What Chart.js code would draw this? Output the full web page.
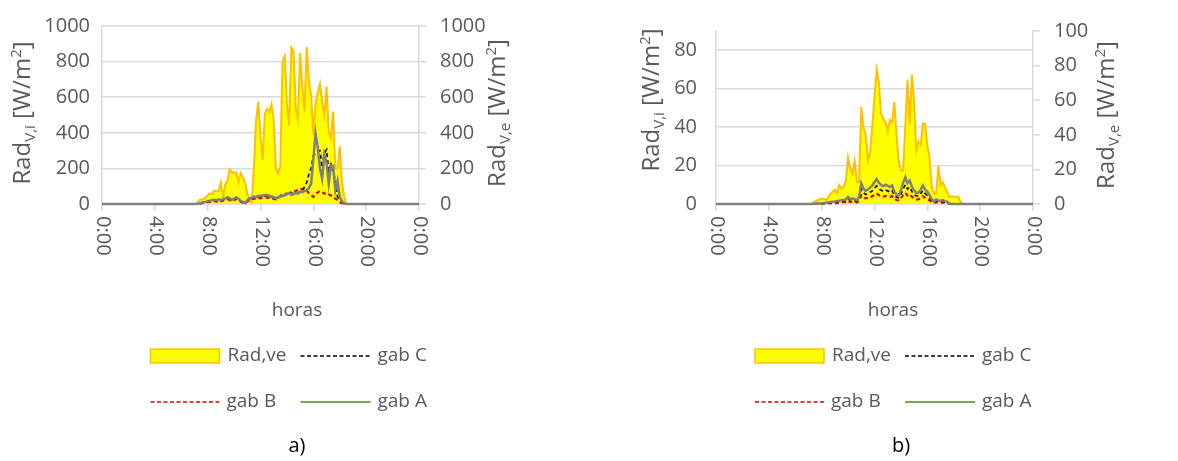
<!DOCTYPE html>
<html>
<head>
<meta charset="utf-8">
<script src="https://cdn.jsdelivr.net/npm/chart.js@4.4.1/dist/chart.umd.min.js"></script>
<style>
  body { margin: 0; background: #fff; }
  .box { position: absolute; top: 0; width: 589px; height: 461px; }
</style>
</head>
<body>
<div class="box" style="left:0"><canvas id="chartA" width="589" height="461"></canvas></div>
<div class="box" style="left:589px"><canvas id="chartB" width="589" height="461"></canvas></div>
<script>
// horas del día (cada 10 min entre 7:00 y 19:00)
const horas = ['0:00',
  '7:00','7:10','7:20','7:30','7:40','7:50','8:00','8:10','8:20','8:30','8:40','8:50',
  '9:00','9:10','9:20','9:30','9:40','9:50','10:00','10:10','10:20','10:30','10:40','10:50',
  '11:00','11:10','11:20','11:30','11:40','11:50','12:00','12:10','12:20','12:30','12:40','12:50',
  '13:00','13:10','13:20','13:30','13:40','13:50','14:00','14:10','14:20','14:30','14:40','14:50',
  '15:00','15:10','15:20','15:30','15:40','15:50','16:00','16:10','16:20','16:30','16:40','16:50',
  '17:00','17:10','17:20','17:30','17:40','17:50','18:00','18:10','18:20','18:30','18:40','18:50',
  '19:00',
  '24:00'];
const horaTickVals = [0, 4, 8, 12, 16, 20, 24];
const horaTicks = ['0:00', '4:00', '8:00', '12:00', '16:00', '20:00', '0:00'];

// a)
const radVeA = [0,
  0,0,20,25,25,35,50,60,55,75,
  72,75,120,40,110,130,195,180,175,177,
  120,175,150,120,60,25,7,200,470,575,
  380,250,510,535,515,560,470,200,170,210,
  800,830,560,440,880,860,540,480,850,650,
  520,880,690,610,390,560,625,675,575,495,
  660,405,370,520,200,200,325,120,40,0,
  0,0,0,
  0];
const gabA_A = [0,
  0,0,3,6,10,12,15,18,22,24,
  20,26,22,27,30,38,32,24,30,38,
  30,18,12,5,20,33,36,42,40,46,
  45,48,51,50,46,42,38,33,38,42,
  45,52,56,60,54,56,62,58,69,66,
  72,78,90,115,250,396,320,200,142,278,
  233,115,215,215,78,130,40,15,3,0,
  0,0,0,
  0];
const gabC_A = [0,
  0,0,2,5,8,10,13,16,20,22,
  18,24,20,25,28,34,30,22,28,34,
  27,16,10,4,17,30,33,38,37,42,
  41,44,47,45,42,38,35,30,35,40,
  44,50,54,58,52,55,62,60,72,80,
  95,120,168,200,270,285,296,300,205,287,
  305,186,223,180,130,40,25,13,3,0,
  0,0,0,
  0];
const gabB_A = [0,
  0,0,1,3,6,8,10,12,15,16,
  14,18,15,20,22,27,23,17,22,28,
  21,12,7,3,13,24,26,30,30,33,
  32,35,37,36,34,31,28,26,35,45,
  58,50,62,70,60,77,72,80,86,82,
  86,77,60,50,40,55,65,73,68,58,
  62,55,48,40,30,22,10,4,1,0,
  0,0,0,
  0];

// b)
const radVeB = [0,
  0,0,0.8,1.5,2,2.8,3.2,2.8,2.3,4,
  6,7,8.3,6,11,8.9,9.8,13.6,26.8,20,
  17.4,24.9,12.6,12.6,56,44,40,25,29.6,45,
  62,77.7,70,52,49.4,47.5,41.9,48.5,47.2,58.9,
  40,25,19.2,19.2,45,72,45.7,74.9,58.9,30.6,
  36.2,34.3,46.6,46,34.3,26.8,10,6,6,22,
  10.8,12.6,9.8,7,4.2,4.2,4.2,4.2,4.2,1.5,
  0,0,0,
  0];
const gabA_B = [0,
  0,0,0,0.1,0.2,0.2,0.3,0.5,0.7,0.9,
  1,1.2,1.3,1.5,1.7,1.9,2.1,2.4,3.7,2.4,
  2.9,2.5,2,3.7,10.8,8,6.8,7.5,8.5,9.5,
  11.5,13,11,10,9.2,10,9.5,8.8,9.7,6.3,
  5,4.6,7.1,11,13.9,10.8,12.2,9,7.1,5.8,
  5.8,7.5,9.7,7.5,6.3,4.6,2.5,1.2,2.4,1.8,
  1.7,2,1.5,1.2,0.3,0,0,0,0,0,
  0,0,0,
  0];
const gabC_B = [0,
  0,0,0,0.1,0.1,0.2,0.2,0.4,0.5,0.6,
  0.7,0.9,0.9,1.1,1.2,1.4,1.5,1.7,2.7,1.7,
  2.1,1.8,1.4,2.7,7.8,5.8,4.9,5.4,6.1,6.8,
  8.3,9.4,7.9,7.2,6.6,7.2,6.8,6.3,7,4.5,
  3.6,3.3,5.1,7.9,10,7.8,8.8,6.5,5.1,4.2,
  4.2,5.4,7,5.4,4.5,3.3,1.8,0.9,1.7,1.3,
  1.2,1.4,1.1,0.9,0.2,0,0,0,0,0,
  0,0,0,
  0];
const gabB_B = [0,
  0,0,0,0,0.1,0.1,0.1,0.2,0.3,0.4,
  0.4,0.5,0.5,0.6,0.7,0.8,0.9,1,1.6,1,
  1.2,1.1,0.8,1.6,4.5,3.4,2.9,3.2,3.6,4,
  4.8,5.5,4.6,4.2,3.9,4.2,4,3.7,4.1,2.6,
  2.1,1.9,3,4.6,5.8,4.5,5.1,3.8,3,2.4,
  2.4,3.2,4.1,3.2,2.6,1.9,1,0.5,1,0.8,
  0.7,0.8,0.6,0.5,0.1,0,0,0,0,0,
  0,0,0,
  0];

const GRIS = '#595959';
const REJILLA = '#d9d9d9';
const FUENTE = '"Open Sans"';

function aHoras(s) {
  const p = s.split(':');
  return Number(p[0]) + Number(p[1]) / 60;
}
function serie(vals) {
  return horas.map((h, k) => ({ x: aHoras(h), y: vals[k] }));
}

function tituloEje(ctx, cx, cy, sub) {
  const partes = [['Rad', 0], [sub, 1], [' [W/m', 0], ['2', -1], [']', 0]];
  const fG = '24px ' + FUENTE, fP = '15px ' + FUENTE;
  let total = 0;
  partes.forEach(p => { ctx.font = p[1] ? fP : fG; total += ctx.measureText(p[0]).width; });
  ctx.save();
  ctx.translate(cx, cy);
  ctx.rotate(-Math.PI / 2);
  ctx.textAlign = 'left';
  ctx.textBaseline = 'alphabetic';
  let x = -total / 2;
  partes.forEach(p => {
    ctx.font = p[1] ? fP : fG;
    const dy = p[1] === 1 ? 5 : (p[1] === -1 ? -9 : 0);
    ctx.fillText(p[0], x, 8 + dy);
    x += ctx.measureText(p[0]).width;
  });
  ctx.restore();
}

function linea(ctx, x1, x2, y, color, w, dash) {
  ctx.save();
  ctx.strokeStyle = color;
  ctx.lineWidth = w;
  ctx.setLineDash(dash);
  ctx.beginPath();
  ctx.moveTo(x1, y);
  ctx.lineTo(x2, y);
  ctx.stroke();
  ctx.restore();
}

const extras = {
  id: 'extras',
  afterDraw(chart, args, o) {
    const ctx = chart.ctx;
    const xs = chart.scales.x;
    ctx.save();
    ctx.fillStyle = GRIS;
    // etiquetas del eje x giradas
    ctx.font = '20px ' + FUENTE;
    ctx.textAlign = 'left';
    ctx.textBaseline = 'middle';
    horaTickVals.forEach((v, k) => {
      ctx.save();
      ctx.translate(xs.getPixelForValue(v) + 1, 216);
      ctx.rotate(Math.PI / 2);
      ctx.fillText(horaTicks[k], 0, 0);
      ctx.restore();
    });
    // títulos
    ctx.font = '19px ' + FUENTE;
    ctx.textAlign = 'center';
    ctx.fillText('horas', o.horasX, 311);
    tituloEje(ctx, o.izq[0], o.izq[1], 'V,i');
    tituloEje(ctx, o.der[0], o.der[1], 'V,e');

    // leyenda
    const lx = o.leyendaX;
    ctx.fillStyle = '#ffff00';
    ctx.fillRect(lx, 349, 69, 14);
    ctx.strokeStyle = '#ffc000';
    ctx.lineWidth = 1.5;
    ctx.strokeRect(lx, 349, 69, 14);
    linea(ctx, lx + 150, lx + 220, 356, '#000000', 1.5, [4, 2.5]);
    linea(ctx, lx, lx + 69, 402, '#e00000', 1.5, [4, 2.5]);
    linea(ctx, lx + 150, lx + 220, 402, '#70ad47', 2, []);
    ctx.fillStyle = GRIS;
    ctx.font = '19px ' + FUENTE;
    ctx.textAlign = 'left';
    ctx.fillText('Rad,ve', lx + 77, 356);
    ctx.fillText('gab C', lx + 227, 356);
    ctx.fillText('gab B', lx + 76, 402);
    ctx.fillText('gab A', lx + 227, 402);

    ctx.fillStyle = '#000';
    ctx.font = '20px ' + FUENTE;
    ctx.textAlign = 'center';
    ctx.fillText(o.letra, o.letraX, 446);
    ctx.restore();
  }
};

function crear(id, d, cfg) {
  return new Chart(document.getElementById(id), {
    type: 'line',
    data: {
      datasets: [
        { label: 'gab A', data: serie(d.a), yAxisID: 'y', borderColor: '#808080', borderWidth: 2.5, order: 0, clip: false },
        { label: 'gab C', data: serie(d.c), yAxisID: 'y', borderColor: '#1a1a1a', borderWidth: 1.8, borderDash: [4, 3], order: 1, clip: false },
        { label: 'gab B', data: serie(d.b), yAxisID: 'y', borderColor: '#e00000', borderWidth: 2.2, borderDash: [4, 3], order: 2, clip: false },
        { label: 'Rad,ve', data: serie(d.ve), yAxisID: 'y1', borderColor: '#ffc000', backgroundColor: '#ffff00', borderWidth: 2, fill: 'origin', order: 3 }
      ]
    },
    options: {
      responsive: false,
      animation: false,
      events: [],
      elements: { point: { radius: 0 }, line: { tension: 0 } },
      layout: { padding: { top: cfg.top, left: 0, right: 0, bottom: 0 } },
      plugins: {
        legend: { display: false },
        tooltip: { enabled: false },
        extras: cfg.extras
      },
      scales: {
        x: {
          type: 'linear', min: 0, max: 24,
          ticks: { display: false, stepSize: 4 },
          grid: { display: true, drawOnChartArea: false, drawTicks: true, tickLength: 7, color: REJILLA, lineWidth: 1.5 },
          border: { display: true, color: REJILLA, width: 1.5 },
          afterFit(s) { s.height = 257; }
        },
        y: {
          position: 'left', min: 0, max: cfg.maxI,
          ticks: { stepSize: cfg.paso, includeBounds: false, color: GRIS, padding: cfg.padI, font: { family: 'Open Sans', size: 20 }, callback: v => String(v) },
          grid: { color: REJILLA, lineWidth: 1.5, drawTicks: false },
          border: { display: true, color: REJILLA, width: 1.5 },
          afterFit(s) { s.width = cfg.anchoI; }
        },
        y1: {
          position: 'right', min: 0, max: cfg.maxE,
          ticks: { stepSize: cfg.pasoE, color: GRIS, padding: 14, font: { family: 'Open Sans', size: 20 }, callback: v => String(v) },
          grid: { drawOnChartArea: false, drawTicks: true, tickLength: 7, color: REJILLA, lineWidth: 1.5 },
          border: { display: true, color: REJILLA, width: 1.5 },
          afterFit(s) { s.width = cfg.anchoE; }
        }
      }
    },
    plugins: [extras]
  });
}

crear('chartA', { ve: radVeA, a: gabA_A, b: gabB_A, c: gabC_A }, {
  top: 22, maxI: 1000, paso: 200, maxE: 1000, pasoE: 200, padI: 12, anchoI: 102, anchoE: 170,
  extras: { horasX: 297, izq: [22, 113], der: [497, 113], leyendaX: 150.5, letra: 'a)', letraX: 297 }
});
crear('chartB', { ve: radVeB, a: gabA_B, b: gabB_B, c: gabC_B }, {
  top: 27, maxI: 90, paso: 20, maxE: 100, pasoE: 20, padI: 19, anchoI: 127, anchoE: 145,
  extras: { horasX: 304, izq: [62, 100], der: [517, 115], leyendaX: 166, letra: 'b)', letraX: 312 }
});
</script>
</body>
</html>
